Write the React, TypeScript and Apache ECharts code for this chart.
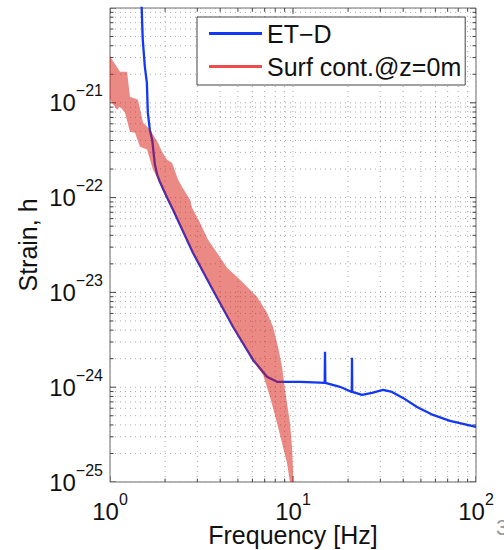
import React, { useEffect, useRef } from 'react';
import * as echarts from 'echarts';

const FONT = '"Liberation Sans", Arial, Helvetica, sans-serif';

const X_MIN = 1;
const X_MAX = 100;
const Y_MIN = 1e-25;
const Y_MAX = 1e-20;
// ECharts' log scale rounds tick values to 10 decimals, so strains are plotted in units of 1e-25
const Y_UNIT = 1e-25;

// ET-D sensitivity curve (frequency in Hz, strain h)
const etdFreq = [1.44, 1.49, 1.51, 1.55, 1.59, 1.61, 1.65, 1.7, 1.76, 1.81, 1.88, 2.05, 2.21, 2.84, 3.65, 4.7, 6.05, 7.21, 8.18, 9.63, 10.92, 14.05, 14.9, 14.96, 15.02, 18.06, 20.95, 21.01, 21.07, 23.83, 27.02, 31.03, 34.75, 39.92, 47.61, 58.21, 72.12, 100];
const etdStrain = [1.8e-20, 1.0e-20, 4.65e-21, 2.41e-21, 1.63e-21, 7.87e-22, 5.21e-22, 4.08e-22, 2.22e-22, 1.75e-22, 1.44e-22, 1.0e-22, 7.45e-23, 2.62e-23, 1.06e-23, 4.34e-24, 1.94e-24, 1.29e-24, 1.14e-24, 1.14e-24, 1.14e-24, 1.12e-24, 1.11e-24, 2.36e-24, 1.11e-24, 1.01e-24, 8.91e-25, 2.04e-24, 8.91e-25, 8.3e-25, 8.71e-25, 9.35e-25, 8.91e-25, 7.71e-25, 6.19e-25, 5.1e-25, 4.41e-25, 3.81e-25];

// Surface contribution band, upper edge
const surfUpperFreq = [1, 1.134, 1.239, 1.286, 1.422, 1.514, 1.654, 1.829, 1.924, 2.049, 2.182, 2.353, 2.474, 2.737, 2.806, 3.103, 3.432, 3.843, 4.359, 5.133, 6.357, 7.211, 7.777, 8.279, 8.709, 9.042, 9.629, 9.874, 10.0, 10.0];
const surfUpperStrain = [3.08e-21, 2.13e-21, 2.13e-21, 1.16e-21, 1.08e-21, 6.18e-22, 5.21e-22, 3.8e-22, 3.05e-22, 2.51e-22, 2.33e-22, 1.55e-22, 1.3e-22, 9.51e-23, 7.82e-23, 5.43e-23, 3.59e-23, 2.62e-23, 1.82e-23, 1.36e-23, 9.0e-24, 6.1e-24, 4.34e-24, 2.67e-24, 1.64e-24, 9.35e-25, 4.2e-25, 2.34e-25, 1.34e-25, 1.0e-25];

// Surface contribution band, lower edge
const surfLowerFreq = [1, 1.092, 1.134, 1.208, 1.286, 1.37, 1.458, 1.593, 1.718, 1.806, 1.876, 2.049, 2.21, 2.842, 3.654, 4.7, 6.045, 6.858, 7.488, 8.177, 8.709, 9.272, 9.629];
const surfLowerStrain = [1.08e-21, 8.47e-22, 9.12e-22, 7.87e-22, 4.95e-22, 4.84e-22, 3.44e-22, 3.21e-22, 1.97e-22, 1.66e-22, 1.4e-22, 9.73e-23, 7.28e-23, 2.56e-23, 1.04e-23, 4.23e-24, 1.9e-24, 1.35e-24, 7.91e-25, 4.2e-25, 2.58e-25, 1.59e-25, 1.0e-25];

// grid / tick positions
const minorMantissas = [2, 3, 4, 5, 6, 7, 8, 9];
const xDecades = [1, 10, 100];
const yDecades = [1e-25, 1e-24, 1e-23, 1e-22, 1e-21, 1e-20];
const xMinor = xDecades.slice(0, -1).flatMap((d) => minorMantissas.map((m) => m * d));
const yMinor = yDecades.slice(0, -1).flatMap((d) => minorMantissas.map((m) => m * d));
const xGridValues = [...xDecades, ...xMinor];
const yGridValues = [...yDecades, ...yMinor];

const SERIES_ETD = 'ET−D';
const SERIES_SURF = 'Surf cont.@z=0m';

const BLUE = '#1238f5';
const RED_LEGEND = '#ee4b4b';
const BAND_FILL = 'rgba(215,20,10,0.5)';
const GRID_COLOR = '#6f6f6f';

const u = (h: number) => h / Y_UNIT;
const yMinU = u(Y_MIN);
const yMaxU = u(Y_MAX);
const expOfStrain = (vUnits: number) => Math.round(Math.log10(vUnits * Y_UNIT));
const expOf = (v: number) => Math.round(Math.log10(v));
const supText = (e: number) => (e < 0 ? '−' + Math.abs(e) : String(e));

const labelRich = {
  b: { fontSize: 24, lineHeight: 40, verticalAlign: 'middle', fontFamily: FONT, color: '#111' },
  s: { fontSize: 16, lineHeight: 16, verticalAlign: 'top', fontFamily: FONT, color: '#111' },
};

export default function App() {
  const ref = useRef<HTMLDivElement>(null);

  useEffect(() => {
    if (!ref.current) return;
    const chart = echarts.init(ref.current, undefined, { renderer: 'svg' });

    const option: any = {
      animation: false,
      backgroundColor: '#ffffff',
      grid: {
        left: 110,
        right: 28,
        top: 8,
        bottom: 68,
        containLabel: false,
        outerBoundsMode: 'none',
        show: true,
        borderColor: '#6a6a6a',
        borderWidth: 1,
        backgroundColor: 'transparent',
      },
      legend: {
        orient: 'vertical',
        left: 197,
        top: 17,
        padding: [4, 4, 6, 12],
        itemGap: 8,
        itemWidth: 53,
        itemHeight: 3,
        backgroundColor: '#ffffff',
        borderColor: '#444',
        borderWidth: 1,
        borderRadius: 0,
        selectedMode: false,
        textStyle: { fontSize: 25, lineHeight: 24, color: '#111', fontFamily: FONT },
        data: [
          { name: SERIES_ETD, icon: 'rect', itemStyle: { color: BLUE } },
          { name: SERIES_SURF, icon: 'rect', itemStyle: { color: RED_LEGEND } },
        ],
      },
      xAxis: {
        type: 'log',
        logBase: 10,
        min: X_MIN,
        max: X_MAX,
        name: 'Frequency [Hz]',
        nameLocation: 'middle',
        nameGap: 40,
        nameMoveOverlap: false,
        nameTextStyle: { fontSize: 25, color: '#111', fontFamily: FONT },
        axisLine: { show: false },
        axisTick: { show: false },
        splitLine: { show: false },
        axisLabel: {
          margin: 9,
          color: '#111',
          fontFamily: FONT,
          formatter: (v: number) => `{b|10}{s|${supText(expOf(v))}}`,
          rich: labelRich,
        },
      },
      yAxis: {
        type: 'log',
        logBase: 10,
        min: yMinU,
        max: yMaxU,
        name: 'Strain, h',
        nameLocation: 'middle',
        nameGap: 70,
        nameMoveOverlap: false,
        nameTextStyle: { fontSize: 25, color: '#111', fontFamily: FONT },
        axisLine: { show: false },
        axisTick: { show: false },
        splitLine: { show: false },
        axisLabel: {
          margin: 7,
          showMaxLabel: false,
          color: '#111',
          fontFamily: FONT,
          formatter: (v: number) => `{b|10}{s|${supText(expOfStrain(v))}}`,
          rich: labelRich,
        },
      },
      graphic: [
        {
          type: 'text',
          left: 496,
          top: 516,
          style: { text: '3', fontSize: 22, fill: '#9a9a9a', fontFamily: FONT },
          silent: true,
        },
      ],
      series: [
        {
          type: 'custom',
          name: 'xgrid',
          silent: true,
          z: 0,
          clip: true,
          data: xGridValues.map((v) => [v, yMinU]),
          encode: { x: 0, y: 1 },
          renderItem: (_p: any, api: any) => {
            const v = api.value(0);
            const a = api.coord([v, yMinU]);
            const b = api.coord([v, yMaxU]);
            const major = xDecades.includes(v);
            const len = major ? 6 : 3.5;
            return {
              type: 'group',
              children: [
                {
                  type: 'line',
                  shape: { x1: a[0], y1: a[1], x2: b[0], y2: b[1] },
                  style: { stroke: GRID_COLOR, lineWidth: 1, lineDash: [1, 4], opacity: 0.6 },
                },
                { type: 'line', shape: { x1: a[0], y1: a[1], x2: a[0], y2: a[1] - len }, style: { stroke: '#444', lineWidth: 1 } },
                { type: 'line', shape: { x1: b[0], y1: b[1], x2: b[0], y2: b[1] + len }, style: { stroke: '#444', lineWidth: 1 } },
              ],
            };
          },
        },
        {
          type: 'custom',
          name: 'ygrid',
          silent: true,
          z: 0,
          clip: true,
          data: yGridValues.map((v) => [X_MIN, u(v)]),
          encode: { x: 0, y: 1 },
          renderItem: (_p: any, api: any) => {
            const v = api.value(1);
            const a = api.coord([X_MIN, v]);
            const b = api.coord([X_MAX, v]);
            const lg = Math.log10(v);
            const major = Math.abs(lg - Math.round(lg)) < 1e-6;
            const len = major ? 6 : 3.5;
            return {
              type: 'group',
              children: [
                {
                  type: 'line',
                  shape: { x1: a[0], y1: a[1], x2: b[0], y2: b[1] },
                  style: { stroke: GRID_COLOR, lineWidth: 1, lineDash: [1, 4], opacity: 0.6 },
                },
                { type: 'line', shape: { x1: a[0], y1: a[1], x2: a[0] + len, y2: a[1] }, style: { stroke: '#444', lineWidth: 1 } },
                { type: 'line', shape: { x1: b[0], y1: b[1], x2: b[0] - len, y2: b[1] }, style: { stroke: '#444', lineWidth: 1 } },
              ],
            };
          },
        },
        {
          type: 'line',
          name: SERIES_ETD,
          data: etdFreq.map((f, i) => [f, u(etdStrain[i])]),
          symbol: 'none',
          showSymbol: false,
          smooth: false,
          clip: true,
          z: 2,
          color: BLUE,
          lineStyle: { color: BLUE, width: 2.3 },
        },
        {
          type: 'custom',
          name: SERIES_SURF,
          z: 3,
          clip: true,
          itemStyle: { color: RED_LEGEND },
          data: [[surfUpperFreq[0], u(surfUpperStrain[0])]],
          encode: { x: 0, y: 1 },
          renderItem: (_p: any, api: any) => {
            const pts: number[][] = [];
            for (let i = 0; i < surfUpperFreq.length; i++) pts.push(api.coord([surfUpperFreq[i], u(surfUpperStrain[i])]));
            for (let i = surfLowerFreq.length - 1; i >= 0; i--) pts.push(api.coord([surfLowerFreq[i], u(surfLowerStrain[i])]));
            return { type: 'polygon', shape: { points: pts }, style: { fill: BAND_FILL, stroke: 'none' } };
          },
        },
      ],
    };

    chart.setOption(option);
    return () => chart.dispose();
  }, []);

  return <div ref={ref} style={{ width: 504, height: 550, position: 'absolute', left: 0, top: 0, background: '#fff' }} />;
}
